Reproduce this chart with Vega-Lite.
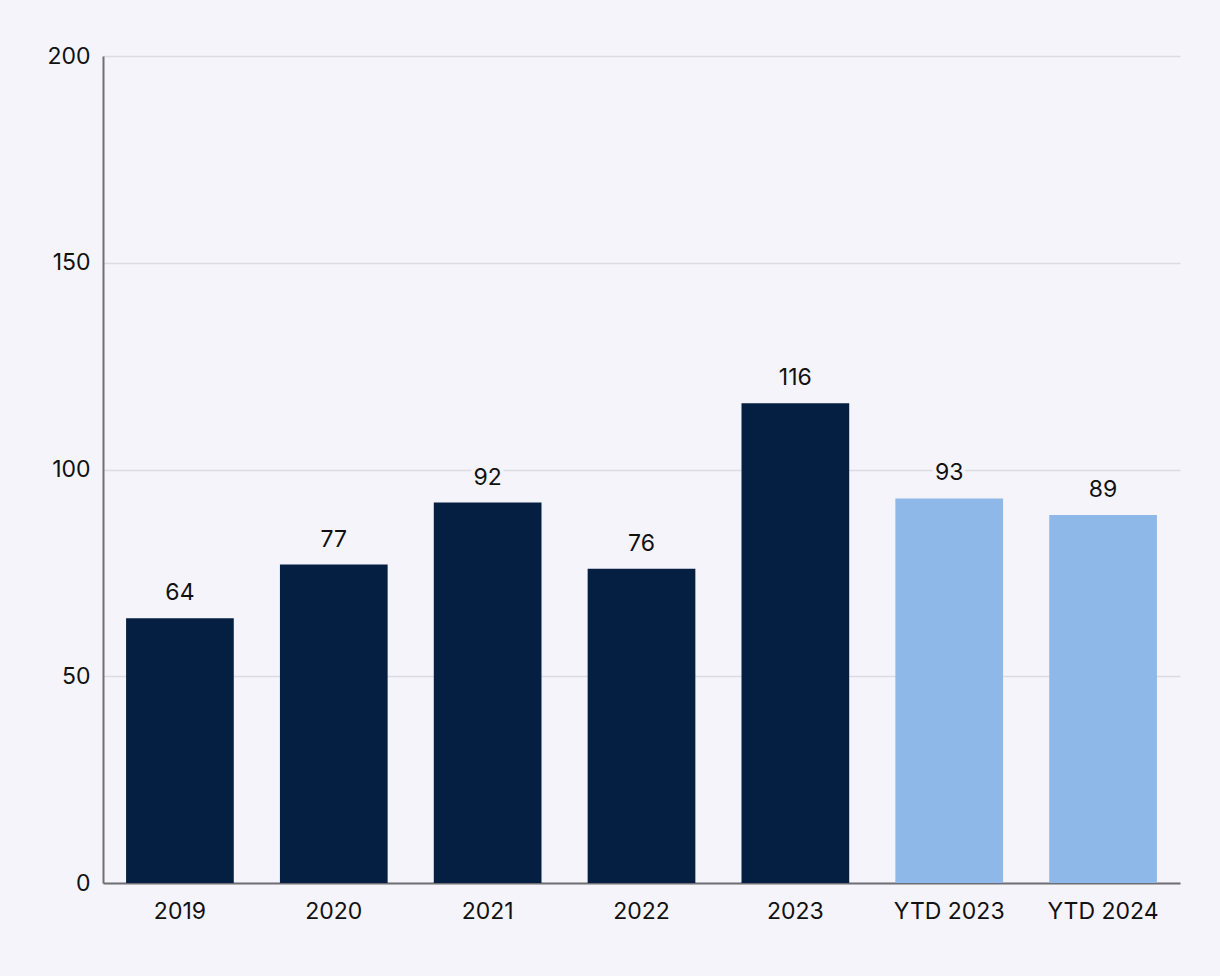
{
  "$schema": "https://vega.github.io/schema/vega-lite/v6.json",
  "autosize": "none",
  "width": 1077,
  "height": 827,
  "padding": {"left": 103, "top": 56, "right": 40, "bottom": 93},
  "background": "#F5F4FA",
  "config": {
    "view": {"stroke": null},
    "font": "Inter",
    "axis": {"labelFont": "Inter", "labelFontSize": 23, "labelColor": "#111111", "titleColor": "#111111"}
  },
  "data": {
    "values": [
      {"period": "2019", "value": 64, "type": "full"},
      {"period": "2020", "value": 77, "type": "full"},
      {"period": "2021", "value": 92, "type": "full"},
      {"period": "2022", "value": 76, "type": "full"},
      {"period": "2023", "value": 116, "type": "full"},
      {"period": "YTD 2023", "value": 93, "type": "ytd"},
      {"period": "YTD 2024", "value": 89, "type": "ytd"}
    ]
  },
  "encoding": {
    "x": {
      "field": "period", "type": "nominal", "sort": null,
      "scale": {"paddingInner": 0.3, "paddingOuter": 0.15},
      "axis": {"title": null, "labelAngle": 0, "ticks": false, "labelPadding": 17, "domainColor": "#6E6E73", "domainWidth": 2, "grid": false}
    },
    "y": {
      "field": "value", "type": "quantitative",
      "scale": {"domain": [0, 200]},
      "axis": {"title": null, "values": [0, 50, 100, 150, 200], "ticks": false, "labelPadding": 13, "domainColor": "#6E6E73", "domainWidth": 2, "gridColor": "#DCDBE3", "gridWidth": 1.5}
    }
  },
  "layer": [
    {
      "mark": {"type": "bar"},
      "encoding": {
        "color": {
          "field": "type", "type": "nominal",
          "scale": {"domain": ["full", "ytd"], "range": ["#041F42", "#8DB8E8"]},
          "legend": null
        }
      }
    },
    {
      "mark": {"type": "text", "baseline": "bottom", "dy": -13, "fontSize": 23, "font": "Inter", "color": "#F5F4FA", "stroke": "#F5F4FA", "strokeWidth": 8},
      "encoding": {"text": {"field": "value", "type": "quantitative"}}
    },
    {
      "mark": {"type": "text", "baseline": "bottom", "dy": -13, "fontSize": 23, "font": "Inter", "color": "#111111"},
      "encoding": {"text": {"field": "value", "type": "quantitative"}}
    }
  ]
}
